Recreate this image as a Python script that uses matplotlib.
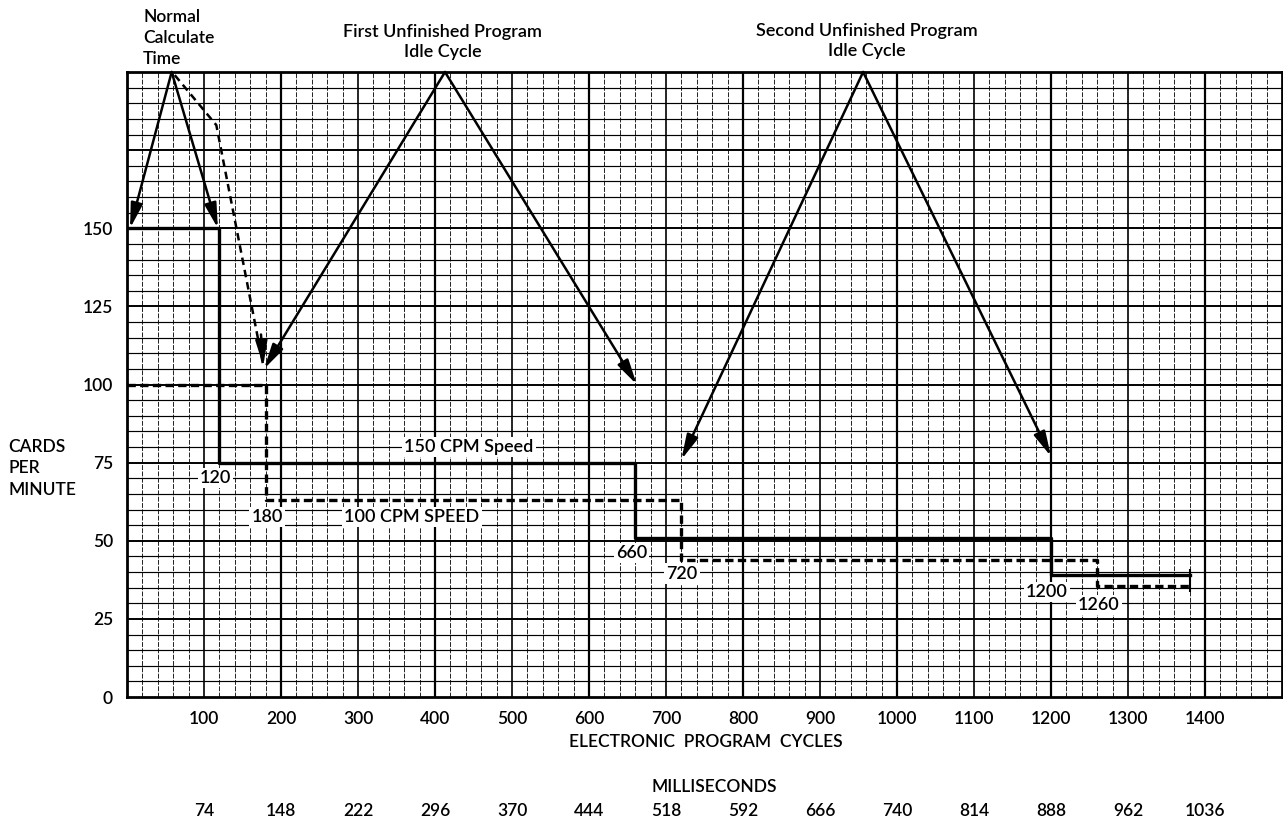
import numpy as np
import matplotlib.pyplot as plt

plt.rcParams['font.family'] = ['Lato', 'DejaVu Sans']
plt.rcParams['font.weight'] = 'semibold'

# speed curves (cycles vs cards per minute)
solid_x = [0, 120, 660, 1200, 1380]
solid_y = [150, 75, 51, 39, 39]
dash_x = [0, 180, 720, 1260, 1380]
dash_y = [100, 63, 44, 35.5, 35.5]

cycle_ticks = [100, 200, 300, 400, 500, 600, 700, 800, 900, 1000, 1100, 1200, 1300, 1400]
ms_labels = ['74', '148', '222', '296', '370', '444', '518', '592', '666', '740',
             '814', '888', '962', '1036']
y_ticks = [0, 25, 50, 75, 100, 125, 150]

# annotation arrows: apex -> tips
normal_apex = (58, 200)
normal_tips = [(4, 150), (118, 150)]
first_apex = (413, 200)
first_tips = [(178, 105), (662, 100)]
second_apex = (956, 200)
second_tips = [(720, 76), (1200, 77)]
dashed_path_x = [62, 116, 177]
dashed_path_y = [199, 183, 106]

step_labels = [('120', 115, 70), ('180', 182, 57.5), ('660', 655, 46),
               ('720', 721, 39.5), ('1200', 1195, 33.5), ('1260', 1262, 29.5),
               ('150 CPM Speed', 444, 80), ('100 CPM SPEED', 370, 57.5)]

fig = plt.figure(figsize=(12.83, 8.21), dpi=100)
ax = fig.add_axes([127/1283, 124/821, 1155/1283, 625/821])
ax.set_xlim(0, 1500)
ax.set_ylim(0, 200)

# graph paper
for x in range(20, 1500, 20):
    if x % 200 == 0:
        ax.axvline(x, color='black', lw=1.6, zorder=1)
    elif x % 100 == 0:
        ax.axvline(x, color='black', lw=1.2, zorder=1)
    else:
        ax.axvline(x, color='#222222', lw=0.7, ls=(0, (5, 1.5)), zorder=1)
for y in range(5, 200, 5):
    ax.axhline(y, color='black', lw=1.4 if y % 25 == 0 else 0.85, zorder=1)

for s in ax.spines.values():
    s.set_linewidth(2)

ax.step(solid_x, solid_y, where='post', color='black', lw=2.4, zorder=3)
ax.step(dash_x, dash_y, where='post', color='black', lw=2.4,
        dashes=(2.5, 1.3), zorder=3)
ax.plot([solid_x[-1]], [solid_y[-1]], marker='|', ms=9, mew=1.5, color='black', zorder=3)
ax.plot([dash_x[-1]], [dash_y[-1]], marker='|', ms=9, mew=1.5, color='black', zorder=3)

arrow_kw = dict(arrowstyle='-|>,head_length=0.75,head_width=0.18', color='black',
                lw=1.8, mutation_scale=20, shrinkA=0, shrinkB=0)
for apex, tips in [(normal_apex, normal_tips), (first_apex, first_tips),
                   (second_apex, second_tips)]:
    for tip in tips:
        ax.annotate('', xy=tip, xytext=apex, arrowprops=arrow_kw,
                    annotation_clip=False, zorder=4)

# dashed arrow from normal calculate time
ax.plot(dashed_path_x, dashed_path_y, color='black', lw=1.8, dashes=(3, 2),
        zorder=4, clip_on=False)
ax.annotate('', xy=(dashed_path_x[-1], dashed_path_y[-1]),
            xytext=(dashed_path_x[-1] - 3, dashed_path_y[-1] + 10),
            arrowprops=arrow_kw, zorder=4)

for txt, x, y in step_labels:
    ax.text(x, y, txt, ha='center', va='center', fontsize=13, zorder=5,
            bbox=dict(facecolor='white', edgecolor='none', pad=1.5))

# titles above the chart
ax.text(21, 217.6, 'Normal', ha='left', va='center', fontsize=12.5, clip_on=False)
ax.text(21, 210.9, 'Calculate', ha='left', va='center', fontsize=12.5, clip_on=False)
ax.text(21, 204.2, 'Time', ha='left', va='center', fontsize=12.5, clip_on=False)
ax.text(410, 212.8, 'First Unfinished Program', ha='center', va='center', fontsize=13)
ax.text(410, 206.4, 'Idle Cycle', ha='center', va='center', fontsize=13)
ax.text(961, 213.1, 'Second Unfinished Program', ha='center', va='center', fontsize=13)
ax.text(961, 206.7, 'Idle Cycle', ha='center', va='center', fontsize=13)

ax.set_xticks(cycle_ticks)
ax.set_xticklabels([str(t) for t in cycle_ticks], fontsize=12.5)
ax.set_yticks(y_ticks)
ax.set_yticklabels([str(t) for t in y_ticks], fontsize=12.5)
ax.tick_params(length=0, pad=10)

tr = ax.get_xaxis_transform()
ax.text(752, -0.072, 'ELECTRONIC  PROGRAM  CYCLES', transform=tr, ha='center',
        va='center', fontsize=12.5)
ax.text(763, -0.144, 'MILLISECONDS', transform=tr, ha='center', va='center', fontsize=12.5)
for x, lab in zip(cycle_ticks, ms_labels):
    ax.text(x, -0.182, lab, transform=tr, ha='center', va='center', fontsize=12.5)

fig.text(8/1283, 1 - 447/821, 'CARDS', ha='left', va='center', fontsize=12.5)
fig.text(8/1283, 1 - 468/821, 'PER', ha='left', va='center', fontsize=12.5)
fig.text(8/1283, 1 - 490/821, 'MINUTE', ha='left', va='center', fontsize=12.5)

fig.savefig('out.png', dpi=100)
